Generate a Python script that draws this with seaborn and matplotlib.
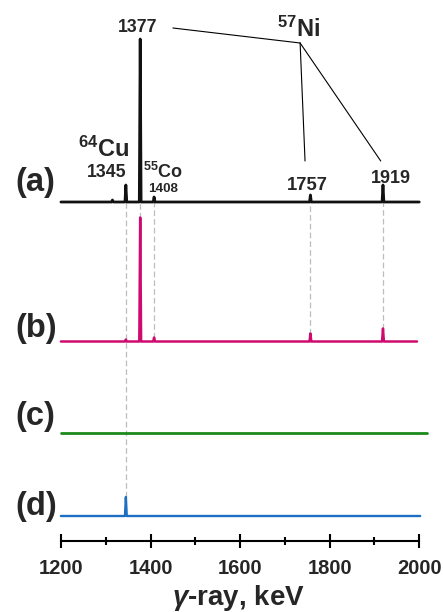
import matplotlib
matplotlib.use("Agg")
import matplotlib.pyplot as plt
import pandas as pd
import seaborn as sns

# gamma spectra, energy (keV) vs counts above each trace's baseline (arb. units)
A_ENERGY = [1200, 1313, 1315, 1317, 1343, 1345, 1347, 1375, 1377, 1379,
            1406, 1408, 1410, 1755, 1757, 1759, 1917, 1919, 1921, 2000]
A_COUNTS = [0, 0, 2, 0, 0, 17, 0, 0, 163, 0, 0, 5, 0, 0, 7, 0, 0, 17, 0, 0]

B_ENERGY = [1200, 1343, 1345, 1347, 1375, 1377, 1379, 1406, 1408, 1410,
            1755, 1757, 1759, 1917, 1919, 1921, 1995]
B_COUNTS = [0, 0, 2, 0, 0, 124, 0, 0, 4, 0, 0, 8, 0, 0, 13, 0, 0]

C_ENERGY = [1200, 2018]
C_COUNTS = [0, 0]

D_ENERGY = [1200, 1343, 1345, 1347, 2002]
D_COUNTS = [0, 0, 19, 0, 0]

SPECTRA = ["a", "b", "c", "d"]
OFFSETS = [339, 199.5, 108.5, 25]
COLORS = ["#111111", "#cf0a6f", "#1b8a1b", "#1c6fc2"]
WIDTHS = [2.0, 1.8, 2.0, 1.7]

# peaks linked with dashed guides: (energy, upper trace, lower trace)
LINKS = [(1345, "a", "d"), (1377, "a", "b"), (1408, "a", "b"),
         (1757, "a", "b"), (1919, "a", "b")]

energies = [A_ENERGY, B_ENERGY, C_ENERGY, D_ENERGY]
counts = [A_COUNTS, B_COUNTS, C_COUNTS, D_COUNTS]
frames = []
for name, off, e, c in zip(SPECTRA, OFFSETS, energies, counts):
    frames.append(pd.DataFrame({"energy": e, "level": [off + v for v in c], "spectrum": name}))
df = pd.concat(frames, ignore_index=True)

sns.set_theme(style="white")
plt.rcParams["font.family"] = ["Liberation Sans", "DejaVu Sans"]
plt.rcParams["font.weight"] = "bold"
plt.rcParams["mathtext.fontset"] = "custom"
plt.rcParams["mathtext.rm"] = "Liberation Sans:bold"
plt.rcParams["mathtext.bf"] = "Liberation Sans:bold"
plt.rcParams["mathtext.it"] = "Liberation Sans:bold:italic"

fig = plt.figure(figsize=(4.43, 6.12), dpi=100)
ax = fig.add_axes([0, 71 / 612, 1, 541 / 612])
ax.set_facecolor("none")

off_of = dict(zip(SPECTRA, OFFSETS))
for energy, top, bottom in LINKS:
    sub = df[(df.spectrum == bottom)]
    peak = sub.loc[(sub.energy - energy).abs().idxmin(), "level"]
    ax.vlines(energy, peak, off_of[top], colors="#bdbdbd", lw=0.9,
              linestyles=(0, (4.5, 2.5)), zorder=1)

for name, color, lw in zip(SPECTRA, COLORS, WIDTHS):
    sns.lineplot(data=df[df.spectrum == name], x="energy", y="level", color=color,
                 lw=lw, estimator=None, sort=False, ax=ax, zorder=3)

ax.set_xlim(1064, 2053)
ax.set_ylim(0, 541)
for s in ["top", "left", "right"]:
    ax.spines[s].set_visible(False)
ax.spines["bottom"].set_bounds(1200, 2000)
ax.spines["bottom"].set_linewidth(1.5)
ax.spines["bottom"].set_color("black")
ax.set_yticks([])
ax.set_xticks([1200, 1400, 1600, 1800, 2000])
ax.set_xticks([1300, 1500, 1700, 1900], minor=True)
ax.tick_params(axis="x", which="major", direction="inout", length=10, width=1.5,
               labelsize=14.5, pad=8, bottom=True, color="black")
ax.tick_params(axis="x", which="minor", direction="inout", length=6, width=1.5,
               bottom=True, color="black")
ax.set_xlabel("")
ax.set_ylabel("")

fig.text(238 / 443, 7 / 612, r"$\gamma$-ray, keV", fontsize=20, fontweight="bold",
         ha="center", va="baseline")

# trace labels
for lab, (x, y) in zip(["(a)", "(b)", "(c)", "(d)"],
                       [(1142, 358), (1144, 213), (1142, 124), (1144, 34)]):
    ax.text(x, y, lab, fontsize=23.5, fontweight="bold", ha="center", va="center")

# peak labels
ax.text(1371, 513.5, "1377", fontsize=12.8, ha="center", va="center")
ax.text(1731, 504, r"$^{57}$Ni", fontsize=17, ha="center", va="baseline")
ax.text(1295, 384, r"$^{64}$Cu", fontsize=17, ha="center", va="baseline")
ax.text(1303, 368.5, "1345", fontsize=12.8, ha="center", va="center")
ax.text(1428, 363, r"$^{55}$Co", fontsize=13, ha="center", va="baseline")
ax.text(1428, 352.5, "1408", fontsize=9.7, ha="center", va="center")
ax.text(1750, 356, "1757", fontsize=13.3, ha="center", va="center")
ax.text(1937, 362.5, "1919", fontsize=13, ha="center", va="center")

# 57Ni connectors
ax.plot([1450, 1734], [513, 498], color="black", lw=0.8)
ax.plot([1734, 1745], [498, 380], color="black", lw=0.8)
ax.plot([1734, 1914], [498, 380], color="black", lw=0.8)

fig.savefig("out.png", dpi=100)
